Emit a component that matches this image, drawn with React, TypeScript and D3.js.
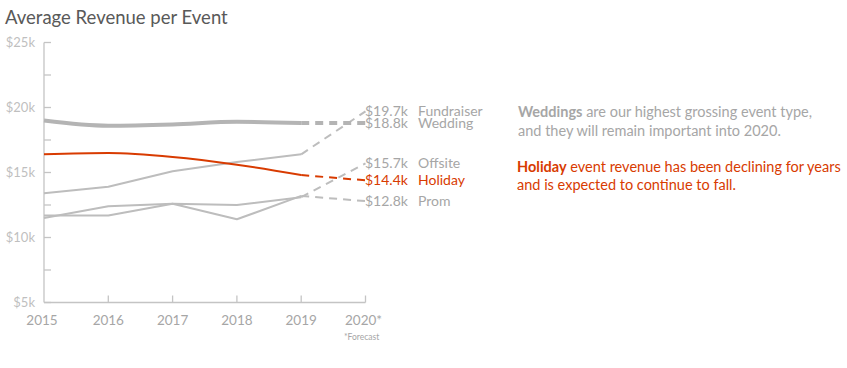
import React from "react";
import * as d3 from "d3";

const years = [2015, 2016, 2017, 2018, 2019, 2020];
const yearLabels = ["2015", "2016", "2017", "2018", "2019", "2020*"];
const yTickValues = [5, 10, 15, 20, 25];
const yMinorTicks = [5, 7.5, 10, 12.5, 15, 17.5, 20, 22.5, 25];

const seriesNames = ["Fundraiser", "Wedding", "Offsite", "Holiday", "Prom"];
const fundraiser = [13.4, 13.9, 15.1, 15.8, 16.4, 19.7];
const wedding = [19.0, 18.6, 18.7, 18.9, 18.8, 18.8];
const offsite = [11.5, 12.4, 12.6, 12.5, 13.1, 15.7];
const holiday = [16.4, 16.5, 16.2, 15.6, 14.8, 14.4];
const prom = [11.7, 11.7, 12.6, 11.4, 13.2, 12.8];

const GRAY = "#bdbdbd";
const TEXT_GRAY = "#a6a6a6";
const RED = "#d83b01";
const FONT = "Lato, 'Open Sans', sans-serif";

export default function App() {
  const W = 847, H = 368;
  const x = d3.scaleLinear().domain([2015, 2020]).range([44, 365.5]);
  const y = d3.scaleLinear().domain([5, 25]).range([302.5, 42.5]);

  const data = [fundraiser, wedding, offsite, holiday, prom];
  const styles = [
    { color: GRAY, width: 2, smooth: false },
    { color: "#b4b4b4", width: 4, smooth: true },
    { color: GRAY, width: 2, smooth: false },
    { color: RED, width: 2, smooth: true },
    { color: GRAY, width: 2, smooth: false },
  ];
  const labelColors = [TEXT_GRAY, TEXT_GRAY, TEXT_GRAY, RED, TEXT_GRAY];

  const solidSmooth = d3
    .line<number>()
    .x((_, i) => x(years[i]))
    .y((d) => y(d))
    .curve(d3.curveMonotoneX);
  const solidLinear = d3
    .line<number>()
    .x((_, i) => x(years[i]))
    .y((d) => y(d));
  const dashed = d3
    .line<number>()
    .x((_, i) => x(years[i + 4]))
    .y((d) => y(d));

  return (
    <svg
      width={W}
      height={H}
      style={{ position: "fixed", left: 0, top: 0, background: "#fff" }}
      fontFamily={FONT}
    >
      <text x={5} y={24} fontSize={18.5} fill="#595959">
        Average Revenue per Event
      </text>

      {/* y axis */}
      <line x1={44} x2={44} y1={y(25)} y2={y(5)} stroke="#c4c4c4" strokeWidth={1.3} />
      {yMinorTicks.map((t) => (
        <line key={t} x1={44} x2={51} y1={y(t)} y2={y(t)} stroke="#c4c4c4" strokeWidth={1.3} />
      ))}
      {yTickValues.map((t) => (
        <text key={t} x={35} y={y(t)} dy="0.35em" textAnchor="end" fontSize={13} fill="#bfbfbf">
          {`$${t}k`}
        </text>
      ))}

      {/* x axis */}
      <line x1={44} x2={x(2020)} y1={y(5)} y2={y(5)} stroke="#c4c4c4" strokeWidth={1.3} />
      {years.slice(1).map((yr) => (
        <line key={yr} x1={x(yr)} x2={x(yr)} y1={y(5)} y2={y(5) - 7} stroke="#c4c4c4" strokeWidth={1.3} />
      ))}
      {years.map((yr, i) => (
        <text
          key={yr}
          x={i === 0 ? x(yr) - 2 : x(yr) + (i === 5 ? -2 : 0)}
          y={320}
          dy="0.35em"
          textAnchor="middle"
          fontSize={13.5}
          fill={TEXT_GRAY}
        >
          {yearLabels[i]}
        </text>
      ))}
      <text x={344} y={337} dy="0.35em" fontSize={8.5} fill={TEXT_GRAY}>
        *Forecast
      </text>

      {/* lines */}
      {data.map((vals, si) => (
        <g key={seriesNames[si]}>
          <path
            d={(styles[si].smooth ? solidSmooth : solidLinear)(vals.slice(0, 5)) || ""}
            fill="none"
            stroke={styles[si].color}
            strokeWidth={styles[si].width}
            strokeLinejoin="round"
          />
          <path
            d={dashed(vals.slice(4, 6)) || ""}
            fill="none"
            stroke={styles[si].color}
            strokeWidth={styles[si].width}
            strokeDasharray="8,6"
          />
        </g>
      ))}

      {/* end labels */}
      {data.map((vals, si) => (
        <g key={"l" + seriesNames[si]} fill={labelColors[si]} fontSize={14}>
          <text x={365} y={y(vals[5])} dy="0.35em">
            {`$${vals[5].toFixed(1)}k`}
          </text>
          <text x={418} y={y(vals[5])} dy="0.35em">
            {seriesNames[si]}
          </text>
        </g>
      ))}

      {/* annotations */}
      <g fontSize={14.5}>
        <text x={518} y={112} dy="0.35em" fill={TEXT_GRAY}>
          <tspan fontWeight="bold">Weddings</tspan> are our highest grossing event type,
        </text>
        <text x={518} y={131} dy="0.35em" fill={TEXT_GRAY}>
          and they will remain important into 2020.
        </text>
        <text x={517} y={167} dy="0.35em" fill={RED}>
          <tspan fontWeight="bold">Holiday</tspan> event revenue has been declining for years
        </text>
        <text x={517} y={185} dy="0.35em" fill={RED}>
          and is expected to continue to fall.
        </text>
      </g>
    </svg>
  );
}
